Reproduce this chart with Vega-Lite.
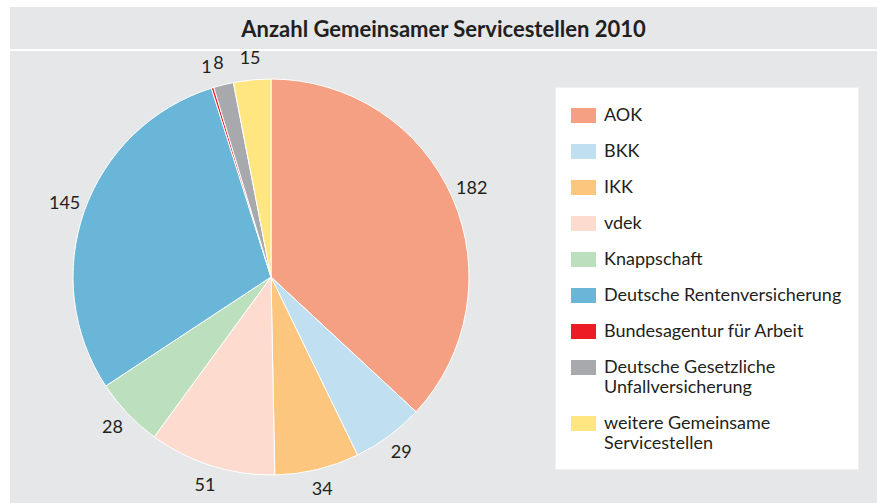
{
  "$schema": "https://vega.github.io/schema/vega-lite/v6.json",
  "background": "white",
  "padding": {"left": 10, "top": 7, "right": 0, "bottom": 0},
  "spacing": 0,
  "bounds": "flush",
  "config": {
    "font": "Lato",
    "view": {"stroke": null},
    "concat": {"spacing": 0}
  },
  "datasets": {
    "t": [{"title": "Anzahl Gemeinsamer Servicestellen 2010"}],
    "d": [
      {"i": 1, "name": "AOK", "value": 182},
      {"i": 2, "name": "BKK", "value": 29},
      {"i": 3, "name": "IKK", "value": 34},
      {"i": 4, "name": "vdek", "value": 51},
      {"i": 5, "name": "Knappschaft", "value": 28},
      {"i": 6, "name": "Deutsche Rentenversicherung", "value": 145},
      {"i": 7, "name": "Bundesagentur für Arbeit", "value": 1},
      {"i": 8, "name": "Deutsche Gesetzliche Unfallversicherung", "value": 8},
      {"i": 9, "name": "weitere Gemeinsame Servicestellen", "value": 15}
    ]
  },
  "vconcat": [
    {
      "width": 867,
      "height": 42,
      "view": {"fill": "#e6e7e8", "stroke": null},
      "data": {"name": "t"},
      "mark": {"type": "text", "font": "Lato", "fontWeight": "bold", "fontSize": 22, "color": "#231f20", "baseline": "middle", "dy": 2},
      "encoding": {"text": {"field": "title", "type": "nominal"}}
    },
    {
      "width": 853,
      "height": 2,
      "view": {"fill": "white", "stroke": null},
      "data": {"name": "t"},
      "mark": {"type": "rect", "color": "white"}
    },
    {
      "spacing": 0,
      "resolve": {"scale": {"color": "independent"}, "legend": {"color": "independent"}},
      "hconcat": [
        {
          "width": 522,
          "height": 452,
          "view": {"fill": "#e6e7e8", "stroke": null},
          "data": {"name": "d"},
          "encoding": {
            "theta": {"field": "value", "type": "quantitative", "stack": true},
            "order": {"field": "i", "type": "quantitative"}
          },
          "layer": [
            {
              "mark": {"type": "arc", "outerRadius": 198, "stroke": "white", "strokeWidth": 1},
              "encoding": {
                "color": {
                  "field": "name",
                  "type": "nominal",
                  "scale": {
                    "domain": ["AOK", "BKK", "IKK", "vdek", "Knappschaft", "Deutsche Rentenversicherung", "Bundesagentur für Arbeit", "Deutsche Gesetzliche Unfallversicherung", "weitere Gemeinsame Servicestellen"],
                    "range": ["#f5a083", "#c0dff0", "#fdc67f", "#fddccf", "#bcdfbe", "#6ab6d9", "#ed1c24", "#a7a9ac", "#ffe680"]
                  },
                  "legend": null
                }
              }
            },
            {
              "mark": {"type": "text", "radius": 219, "font": "Lato", "fontSize": 18, "fill": "#231f20"},
              "encoding": {"text": {"field": "value", "type": "quantitative"}}
            }
          ]
        },
        {
          "width": 345,
          "height": 452,
          "view": {"fill": "#e6e7e8", "stroke": null},
          "data": {"name": "d"},
          "mark": {"type": "point", "filled": true, "opacity": 0},
          "encoding": {
            "color": {
              "field": "name",
              "type": "nominal",
              "scale": {
                "domain": ["AOK", "BKK", "IKK", "vdek", "Knappschaft", "Deutsche Rentenversicherung", "Bundesagentur für Arbeit", "Deutsche Gesetzliche Unfallversicherung", "weitere Gemeinsame Servicestellen"],
                "range": ["#f5a083", "#c0dff0", "#fdc67f", "#fddccf", "#bcdfbe", "#6ab6d9", "#ed1c24", "#a7a9ac", "#ffe680"]
              },
              "legend": {
                "orient": "none",
                "legendX": 23,
                "legendY": 36,
                "title": null,
                "fillColor": "white",
                "strokeColor": "#f0f0f0",
                "padding": 16,
                "symbolType": "M-1,-0.6H1V0.6H-1Z",
                "symbolSize": 625,
                "symbolOpacity": 1,
                "symbolStrokeWidth": 0,
                "labelFont": "Lato",
                "labelFontSize": 18,
                "labelColor": "#231f20",
                "labelOffset": 8,
                "labelLimit": 400,
                "rowPadding": 14,
                "labelExpr": "datum.label == 'Deutsche Gesetzliche Unfallversicherung' ? ['Deutsche Gesetzliche', 'Unfallversicherung'] : datum.label == 'weitere Gemeinsame Servicestellen' ? ['weitere Gemeinsame', 'Servicestellen'] : datum.label"
              }
            }
          }
        }
      ]
    }
  ]
}
